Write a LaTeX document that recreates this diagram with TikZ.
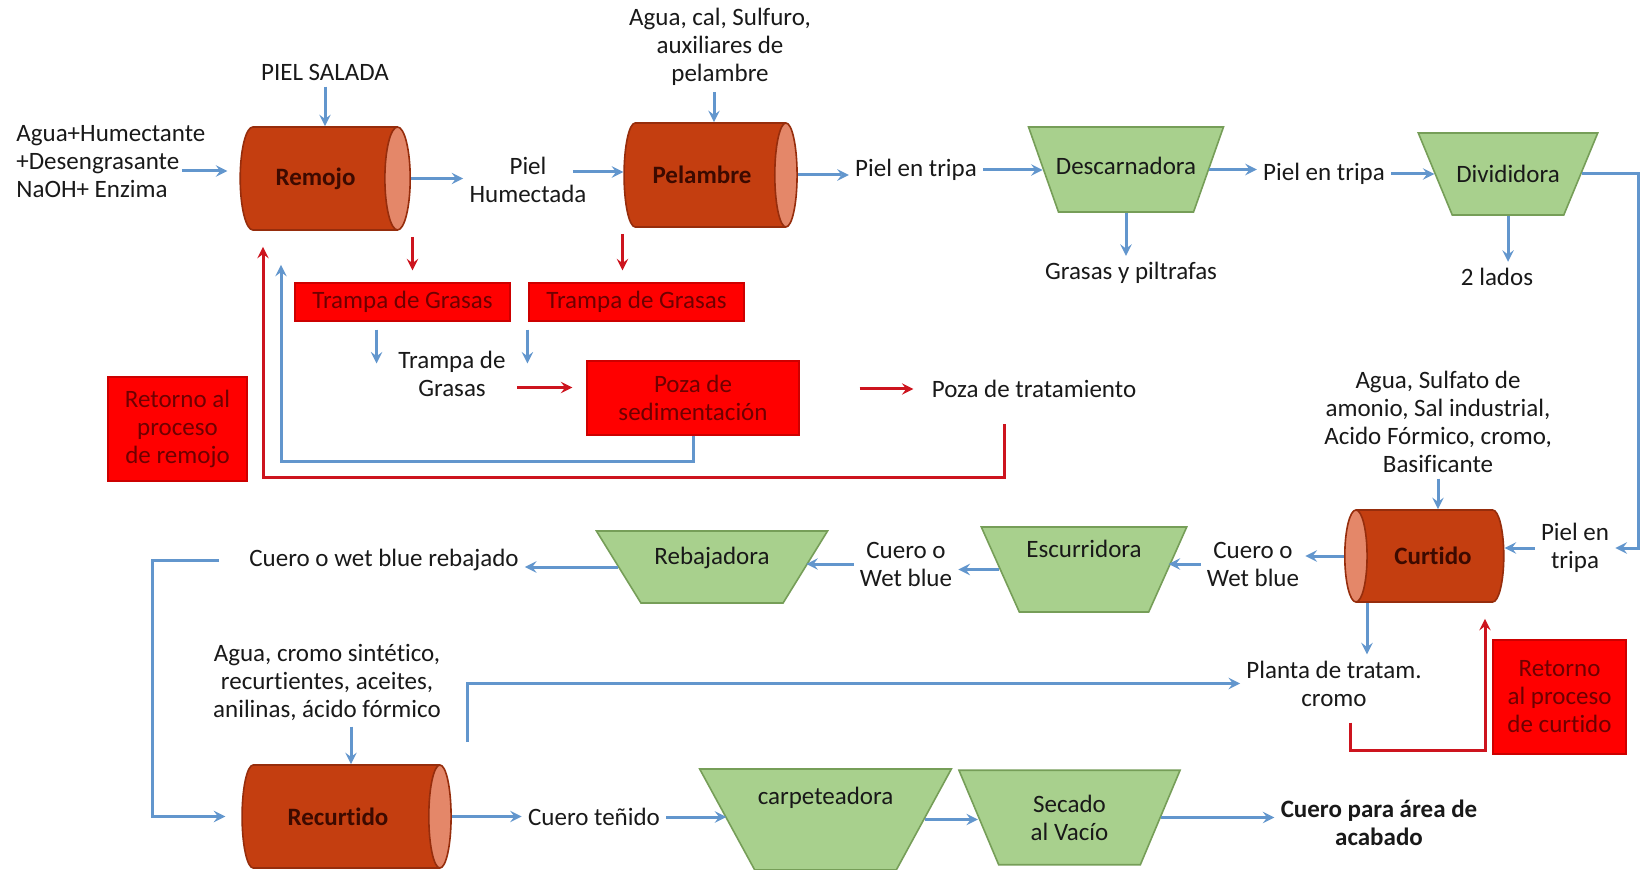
\documentclass[tikz,border=0pt]{standalone}
\usepackage{fontspec}
\setmainfont{Carlito}[Ligatures=NoCommon]
\usetikzlibrary{arrows,positioning,shapes.geometric}

\definecolor{flowblue}{RGB}{98,150,205}
\definecolor{flowred}{RGB}{205,20,30}
\definecolor{drumbody}{RGB}{196,62,16}
\definecolor{drumend}{RGB}{228,135,105}
\definecolor{drumedge}{RGB}{150,45,12}
\definecolor{drumtext}{RGB}{60,10,0}
\definecolor{machfill}{RGB}{168,208,141}
\definecolor{machedge}{RGB}{118,158,88}
\definecolor{boxred}{RGB}{255,0,0}
\definecolor{boxedge}{RGB}{205,0,0}
\definecolor{boxtext}{RGB}{110,0,0}

\begin{document}
\begin{tikzpicture}[x=0.5pt, y=-0.5pt,
  every node/.style={font=\fontsize{12.5}{14}\selectfont, text=black!90, align=center, inner sep=3pt},
  drum/.style={cylinder, shape aspect=0.75, draw=drumedge, line width=0.8pt, cylinder uses custom fill, cylinder body fill=drumbody, cylinder end fill=drumend, text=drumtext, font=\fontsize{12.5}{14}\selectfont\bfseries},
  machine/.style={trapezium, shape border rotate=180, trapezium stretches body, draw=machedge, fill=machfill, line width=0.8pt, text height=9pt},
  redbox/.style={draw=boxedge, fill=boxred, text=boxtext, line width=0.6pt},
  arrow/.style={->, >=stealth, draw=flowblue, line width=1.5pt},
  redarrow/.style={->, >=stealth, draw=flowred, line width=1.5pt}
]
\useasboundingbox[fill=white] (0,0) rectangle (1641,870);

% first row
\node[anchor=west, align=left] (inRemojo) at (10,162) {Agua+Humectante\\+Desengrasante\\NaOH+ Enzima};
\node (salada) at (325,72) {PIEL SALADA};
\node[drum, minimum height=85pt, minimum width=51.5pt] (remojo) at (315.5,178.5) {Remojo};
\node (hum) at (528,180) {Piel\\Humectada};
\node (inPelambre) at (720,47) {Agua, cal, Sulfuro,\\auxiliares de\\pelambre};
\node[drum, minimum height=86.5pt, minimum width=52pt] (pelambre) at (702,175) {Pelambre};
\node (tripa1) at (916,170) {Piel en tripa};
\node[machine, minimum width=97pt, trapezium angle=70.6, inner xsep=-1.3pt, inner ysep=15pt, text depth=3.5pt] (descarnadora) at (1126,169.5) {Descarnadora};
\node (grasas) at (1131,273) {Grasas y piltrafas};
\node (tripa2) at (1324,174) {Piel en tripa};
\node[machine, minimum width=89pt, trapezium angle=67.5, inner xsep=2pt, inner ysep=16pt, text depth=0pt] (divididora) at (1508,174) {Divididora};
\node (lados) at (1497,277) {2 lados};

% trampas y pozas
\node[redbox, minimum width=107.5pt, minimum height=19pt] (trampa1) at (402.5,302) {Trampa de Grasas};
\node[redbox, minimum width=107.5pt, minimum height=19pt] (trampa2) at (636.5,302) {Trampa de Grasas};
\node[minimum width=75pt] (grasasTxt) at (452,373.5) {Trampa de\\Grasas};
\node[redbox, minimum width=106pt, minimum height=37pt] (poza) at (693,398) {Poza de\\sedimentación};
\node (trat) at (1034,389) {Poza de tratamiento};
\node[redbox, minimum width=69.5pt, minimum height=52pt] (retRemojo) at (177.5,429) {Retorno al\\proceso\\de remojo};

% curtido
\node (inCurtido) at (1438,421.5) {Agua, Sulfato de\\amonio, Sal industrial,\\Acido Fórmico, cromo,\\Basificante};
\node[drum, shape border rotate=180, minimum height=79.5pt, minimum width=46pt] (curtido) at (1433,556) {Curtido};
\node (tripa3) at (1575,548) {Piel en\\tripa};
\node (wb1) at (1253,564) {Cuero o\\Wet blue};
\node[machine, minimum width=102pt, trapezium angle=65.9, inner xsep=3.5pt, inner ysep=6pt, text depth=21.5pt] (escurridora) at (1084,569.5) {Escurridora};
\node (wb2) at (906,564) {Cuero o\\Wet blue};
\node[machine, minimum width=115pt, trapezium angle=58.3, inner xsep=6.75pt, inner ysep=7.5pt, text depth=12pt] (rebajadora) at (712,567) {Rebajadora};
\node (rebajado) at (384,560) {Cuero o wet blue rebajado};
\node (planta) at (1334,683.5) {Planta de tratam.\\cromo};
\node[redbox, minimum width=66.5pt, minimum height=57pt] (retCurtido) at (1559.5,697) {Retorno\\al proceso\\de curtido};

% recurtido
\node (inRecurtido) at (327,682) {Agua, cromo sintético,\\recurtientes, aceites,\\anilinas, ácido fórmico};
\node[drum, minimum height=104.5pt, minimum width=51.5pt] (recurtido) at (338,816.5) {Recurtido};
\node (tenido) at (594,817) {Cuero teñido};
\node[machine, minimum width=125.5pt, trapezium angle=61.4, inner xsep=1.5pt, inner ysep=8.5pt, text depth=24.5pt] (carpeteadora) at (825.5,819.5) {carpeteadora};
\node[machine, minimum width=109.5pt, trapezium angle=67.2, inner xsep=16pt, inner ysep=12.25pt, text height=, text depth=] (secado) at (1069.5,817.5) {Secado\\al Vacío};
\node[font=\fontsize{12.5}{14}\selectfont\bfseries] (acabado) at (1379,823) {Cuero para área de\\acabado};

% flujo principal
\draw[arrow, shorten >=6pt] ([xshift=-15pt,yshift=-4.5pt]inRemojo.east) -- ([yshift=-4.5pt]inRemojo.east -| remojo.west);
\draw[arrow] (salada.south) -- (salada.south |- remojo.north);
\draw[arrow] (remojo.east) -- (remojo.east -| hum.west);
\draw[arrow] ([xshift=-10pt,yshift=4pt]hum.east) -- ([yshift=4pt]hum.east -| pelambre.west);
\draw[arrow] ([xshift=-3pt]inPelambre.south) -- ([xshift=-3pt]inPelambre.south |- pelambre.north);
\draw[arrow] (pelambre.east) -- (pelambre.east -| tripa1.west);
\draw[arrow] (tripa1.east) -- (tripa1.east -| descarnadora.west);
\draw[arrow] (descarnadora.south) -- (descarnadora.south |- grasas.north);
\draw[arrow] (descarnadora.east) -- (descarnadora.east -| tripa2.west);
\draw[arrow] (tripa2.east) -- (tripa2.east -| divididora.west);
\draw[arrow] (divididora.south) -- (divididora.south |- lados.north);
\coordinate (edge) at (1638,548);
\draw[arrow] (divididora.east) -| (edge) -- (tripa3.east);
\draw[arrow] (tripa3.west) -- (tripa3.west -| curtido.east);
\draw[arrow] (inCurtido.south) -- (inCurtido.south |- curtido.north);
\draw[arrow] (curtido.west) -- (curtido.west -| wb1.east);
\draw[arrow] (wb1.west) -- (wb1.west -| escurridora.east);
\draw[arrow] (escurridora.west) -- (escurridora.west -| wb2.east);
\draw[arrow] (wb2.west) -- (wb2.west -| rebajadora.east);
\draw[arrow] (rebajadora.west) -- (rebajadora.west -| rebajado.east);
\coordinate (back) at (152,560);
\draw[arrow, shorten <=12pt, shorten >=8pt] (rebajado.west) -- (back) |- (recurtido.west);
\draw[arrow] ([xshift=12pt]inRecurtido.south) -- ([xshift=12pt]inRecurtido.south |- recurtido.north);
\draw[arrow] (recurtido.east) -- (recurtido.east -| tenido.west);
\draw[arrow] (tenido.east) -- (tenido.east -| carpeteadora.west);
\draw[arrow] (carpeteadora.east) -- (carpeteadora.east -| secado.west);
\draw[arrow] (secado.east) -- (secado.east -| acabado.west);

% cromo
\coordinate (chrome) at (467,742);
\draw[arrow] (chrome) |- (planta.west);
\draw[arrow] ([xshift=-33pt]curtido.south) -- ([xshift=-33pt]curtido.south |- planta.north);
\coordinate (cr) at (1485,750);
\draw[redarrow, shorten >=8pt] ([xshift=8pt,yshift=-5pt]planta.south) |- (cr) -- (cr |- curtido.south);

% aguas residuales
\draw[redarrow, shorten <=3pt, shorten >=6pt] ([xshift=5pt]remojo.south -| trampa1.north) -- ([xshift=5pt]trampa1.north);
\draw[redarrow, shorten <=3pt, shorten >=6pt] ([xshift=-7pt]pelambre.south -| trampa2.north) -- ([xshift=-7pt]trampa2.north);
\draw[arrow, shorten <=4pt, shorten >=5pt] (trampa1.south -| grasasTxt.west) -- (grasasTxt.west);
\draw[arrow, shorten <=4pt, shorten >=5pt] (trampa2.south -| grasasTxt.east) -- (grasasTxt.east);
\draw[redarrow, shorten >=7pt] ([xshift=-5pt,yshift=-7pt]grasasTxt.east) -- ([yshift=-7pt]grasasTxt.east -| poza.west);
\draw[redarrow, shorten <=30pt, shorten >=6pt] (poza.east |- trat.west) -- (trat.west);
\coordinate (bret) at (281,462);
\draw[arrow, shorten >=17pt] (poza.south) |- (bret) -- (bret |- remojo.south);
\coordinate (rret) at (263,478);
\draw[redarrow, shorten >=8pt] ([xshift=-15pt,yshift=-10pt]trat.south) |- (rret) -- (rret |- remojo.south);
\end{tikzpicture}
\end{document}
